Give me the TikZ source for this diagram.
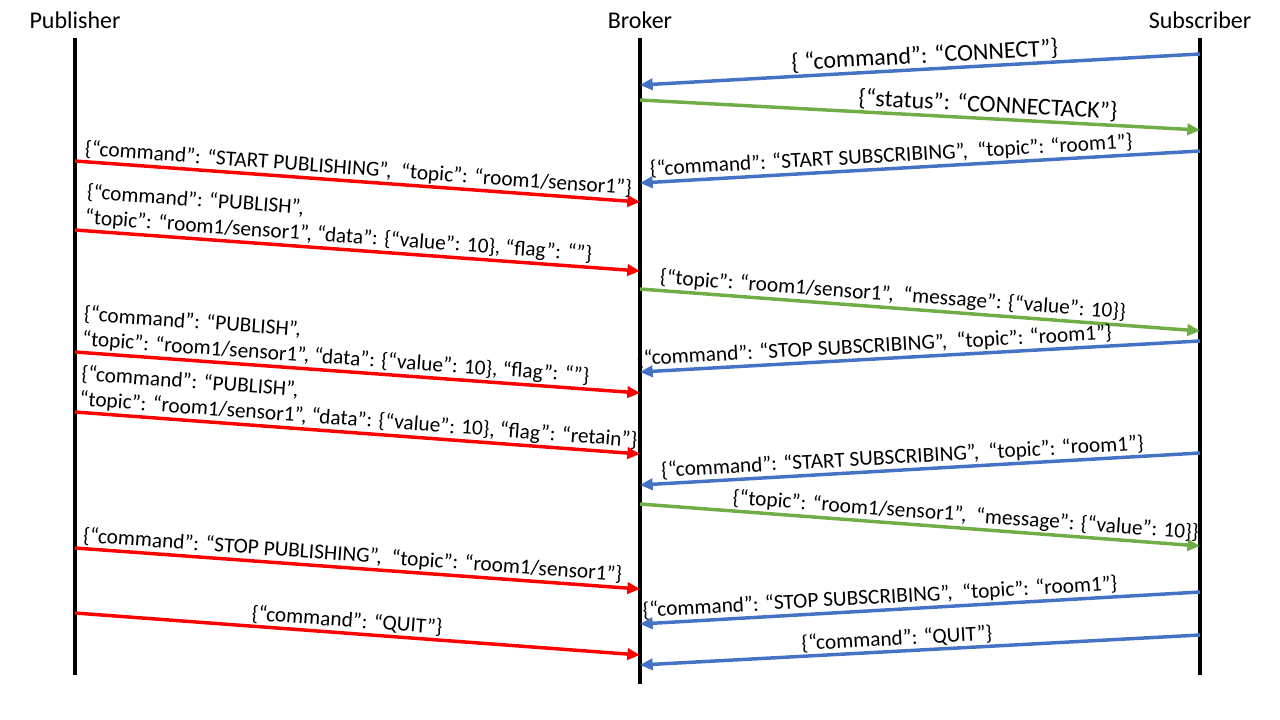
\documentclass[tikz,border=0pt]{standalone}
\usepackage{fontspec}
\setmainfont{Carlito}
\usetikzlibrary{arrows.meta}

\definecolor{pubred}{RGB}{255,0,0}
\definecolor{subblue}{RGB}{68,114,196}
\definecolor{ackgreen}{RGB}{112,173,71}

\tikzset{
  lifeline/.style = {line width = 2.6pt, draw = black},
  msg/.style = {line width = 2.6pt, -{Triangle[length = 9.5pt, width = 8.5pt]}},
  pubmsg/.style = {msg, draw = pubred},
  submsg/.style = {msg, draw = subblue},
  ackmsg/.style = {msg, draw = ackgreen},
  lbl/.style = {font = \fontsize{16}{19}\selectfont, sloped, above, inner sep = 1pt, align = left},
  biglbl/.style = {lbl, font = \fontsize{18}{21}\selectfont},
  head/.style = {font = \fontsize{18}{21}\selectfont}
}

\begin{document}
\begin{tikzpicture}[x = 0.75pt, y = -0.75pt]
\useasboundingbox (0, 0) rectangle (1280, 720);

\node[head] (pub) at (75, 20) {Publisher};
\node[head] (broker) at (640, 20) {Broker};
\node[head] (sub) at (1200, 20) {Subscriber};

\coordinate (pubtop) at (75, 38);
\coordinate (pubend) at (75, 675);
\coordinate (brokertop) at (640, 38);
\coordinate (brokerend) at (640, 684);
\coordinate (subtop) at (1200, 38);
\coordinate (subend) at (1200, 675);

\draw[lifeline] (pubtop) -- (pubend);
\draw[lifeline] (brokertop) -- (brokerend);
\draw[lifeline] (subtop) -- (subend);

% subscriber connects
\coordinate (m1a) at (1200, 54);   \coordinate (m1b) at (640, 85);
\coordinate (m2a) at (640, 100);   \coordinate (m2b) at (1200, 130);
\coordinate (m3a) at (1200, 151);  \coordinate (m3b) at (640, 183);
    \draw[submsg] (m1a) -- (m1b) node[biglbl, pos = 0.49] {\{ “command”: “CONNECT”\}};
    \draw[ackmsg] (m2a) -- (m2b) node[biglbl, pos = 0.62] {\{“status”: “CONNECTACK”\}};
    \draw[submsg] (m3a) -- (m3b) node[lbl, pos = 0.55] {\{“command”: “START SUBSCRIBING”,~ “topic”: “room1”\}};

% publisher starts and publishes
\coordinate (m4a) at (75, 161);    \coordinate (m4b) at (640, 202);
\coordinate (m5a) at (75, 230);    \coordinate (m5b) at (640, 271);
\coordinate (m6a) at (640, 289);   \coordinate (m6b) at (1200, 331);
    \draw[pubmsg] (m4a) -- (m4b) node[lbl, pos = 0.5] {\{“command”: “START PUBLISHING”,~ “topic”: “room1/sensor1”\}};
    \draw[pubmsg] (m5a) -- (m5b) node[lbl, pos = 0.465] {\{“command”: “PUBLISH”,\\“topic”: “room1/sensor1”, “data”: \{“value”: 10\}, “flag”: “”\}};
    \draw[ackmsg] (m6a) -- (m6b) node[lbl, pos = 0.45] {\{“topic”: “room1/sensor1”,~ “message”: \{“value”: 10\}\}};

% subscriber leaves, publisher retains
\coordinate (m7a) at (1200, 341);  \coordinate (m7b) at (640, 372);
\coordinate (m8a) at (75, 352);    \coordinate (m8b) at (640, 393);
\coordinate (m9a) at (75, 412);    \coordinate (m9b) at (640, 454);
    \draw[submsg] (m7a) -- (m7b) node[lbl, pos = 0.58] {\{“command”: “STOP SUBSCRIBING”,~ “topic”: “room1”\}};
    \draw[pubmsg] (m8a) -- (m8b) node[lbl, pos = 0.46] {\{“command”: “PUBLISH”,\\“topic”: “room1/sensor1”, “data”: \{“value”: 10\}, “flag”: “”\}};
    \draw[pubmsg] (m9a) -- (m9b) node[lbl, pos = 0.5] {\{“command”: “PUBLISH”,\\“topic”: “room1/sensor1”, “data”: \{“value”: 10\}, “flag”: “retain”\}};

% subscriber comes back
\coordinate (m10a) at (1200, 453); \coordinate (m10b) at (640, 485);
\coordinate (m11a) at (640, 504);  \coordinate (m11b) at (1200, 546);
    \draw[submsg] (m10a) -- (m10b) node[lbl, pos = 0.53] {\{“command”: “START SUBSCRIBING”,~ “topic”: “room1”\}};
    \draw[ackmsg] (m11a) -- (m11b) node[lbl, pos = 0.58] {\{“topic”: “room1/sensor1”,~ “message”: \{“value”: 10\}\}};

% both stop and quit
\coordinate (m12a) at (75, 548);   \coordinate (m12b) at (640, 589);
\coordinate (m13a) at (1200, 592); \coordinate (m13b) at (640, 624);
\coordinate (m14a) at (75, 613);   \coordinate (m14b) at (640, 655);
\coordinate (m15a) at (1200, 635); \coordinate (m15b) at (640, 665);
    \draw[pubmsg] (m12a) -- (m12b) node[lbl, pos = 0.49] {\{“command”: “STOP PUBLISHING”,~ “topic”: “room1/sensor1”\}};
    \draw[submsg] (m13a) -- (m13b) node[lbl, pos = 0.57] {\{“command”: “STOP SUBSCRIBING”,~ “topic”: “room1”\}};
    \draw[pubmsg] (m14a) -- (m14b) node[lbl, pos = 0.48] {\{“command”: “QUIT”\}};
    \draw[submsg] (m15a) -- (m15b) node[lbl, pos = 0.54] {\{“command”: “QUIT”\}};
\end{tikzpicture}
\end{document}
